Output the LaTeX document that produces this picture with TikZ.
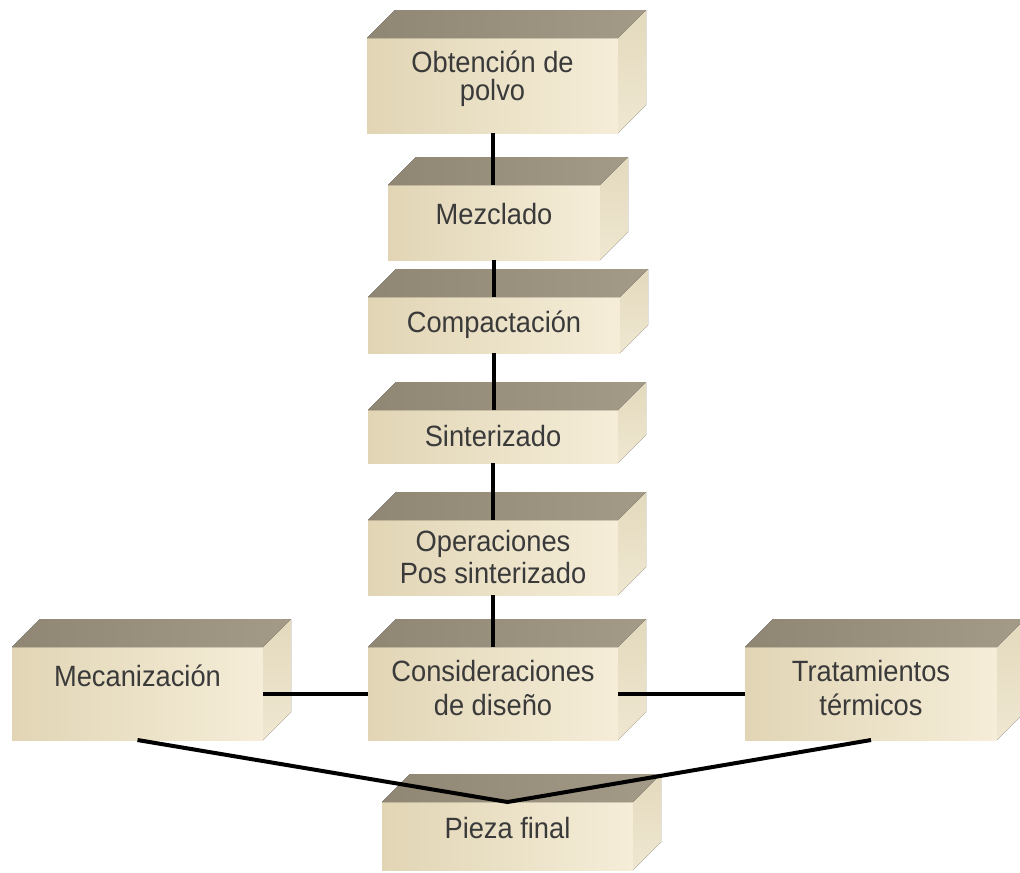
\documentclass[tikz,border=0pt]{standalone}
\usepackage{fontspec}
\setmainfont{Liberation Sans}[FakeStretch=0.93]

\definecolor{topL}{HTML}{8F8673}
\definecolor{topR}{HTML}{A39A88}
\definecolor{frontL}{HTML}{E1D5B5}
\definecolor{frontM}{HTML}{F4EBD4}
\definecolor{frontR}{HTML}{F5EDD8}
\definecolor{sideT}{HTML}{E3D9BD}
\definecolor{sideB}{HTML}{EFE7D1}
\definecolor{ink}{HTML}{3A3A3A}

% raise the printed text without changing the box it reports
\newcommand\lift[2]{\raisebox{#1}[\height][\depth]{#2}}

% top and right faces of a block, drawn from the anchors of its front face
\newcommand\blockfaces[1]{%
  \fill[left color=topL,right color=topR]
    (#1.north west) -- ++(28,-28) -- ([shift={(28,-28)}]#1.north east)
    -- (#1.north east) -- cycle;
  \fill[top color=sideT,bottom color=sideB]
    (#1.north east) -- ([shift={(28,-28)}]#1.north east)
    -- ([shift={(28,-28)}]#1.south east) -- (#1.south east) -- cycle;
}

\tikzset{
  stage/.style={inner sep=0pt, outer sep=0pt,
    left color=frontL, middle color=frontM, right color=frontR,
    text=ink, align=center,
    font=\fontsize{22}{24}\selectfont},
  face/.style 2 args={minimum width=#1*0.75pt, minimum height=#2*0.75pt},
  link/.style={line width=3pt, black},
}

\begin{document}
\begin{tikzpicture}[x=0.75pt, y=-0.75pt]
\fill[white] (0,0) rectangle (1020,872);
\useasboundingbox (0,0) rectangle (1020,872);

% process blocks (front faces)
\node[stage, face={251}{95}] (obt) at (492.5,85.5)
  {\lift{4pt}{\begin{tabular}{@{}c@{}}Obtención de\\[-3pt]polvo\end{tabular}}};
\blockfaces{obt}
\node[stage, face={212}{75}] (mez) at (494,222.5) {\lift{6pt}{Mezclado}};
\blockfaces{mez}
\node[stage, face={252}{56}] (com) at (494,325) {Compactación};
\blockfaces{com}
\node[stage, face={250}{53}] (sin) at (493,436.5) {Sinterizado};
\blockfaces{sin}
\node[stage, face={250}{75}] (ope) at (493,557.5) {Operaciones\\Pos sinterizado};
\blockfaces{ope}
\node[stage, face={250}{93}] (con) at (493,693.5)
  {\lift{1pt}{\begin{tabular}{@{}c@{}}Consideraciones\\[1pt]de diseño\end{tabular}}};
\blockfaces{con}
\node[stage, face={251}{93}] (mec) at (137.5,693.5) {\lift{13pt}{Mecanización}};
\blockfaces{mec}
\node[stage, face={252}{93}] (tra) at (871,693.5)
  {\lift{1pt}{\begin{tabular}{@{}c@{}}Tratamientos\\[1pt]térmicos\end{tabular}}};
\blockfaces{tra}
\node[stage, face={251}{68}] (pie) at (507.5,836) {\lift{6pt}{Pieza final}};
\blockfaces{pie}

% connectors
\draw[link] (obt.south) -- (obt.south |- mez.north);
\draw[link] (mez.south) -- (mez.south |- com.north);
\draw[link] (com.south) -- (com.south |- sin.north);
\draw[link] (sin.south) -- (sin.south |- ope.north);
\draw[link] (ope.south) -- (ope.south |- con.north);
\draw[link] (mec.east) -- (con.west);
\draw[link] (con.east) -- (tra.west);
\draw[link] (mec.south) -- (pie.north) -- (tra.south);
\end{tikzpicture}
\end{document}
